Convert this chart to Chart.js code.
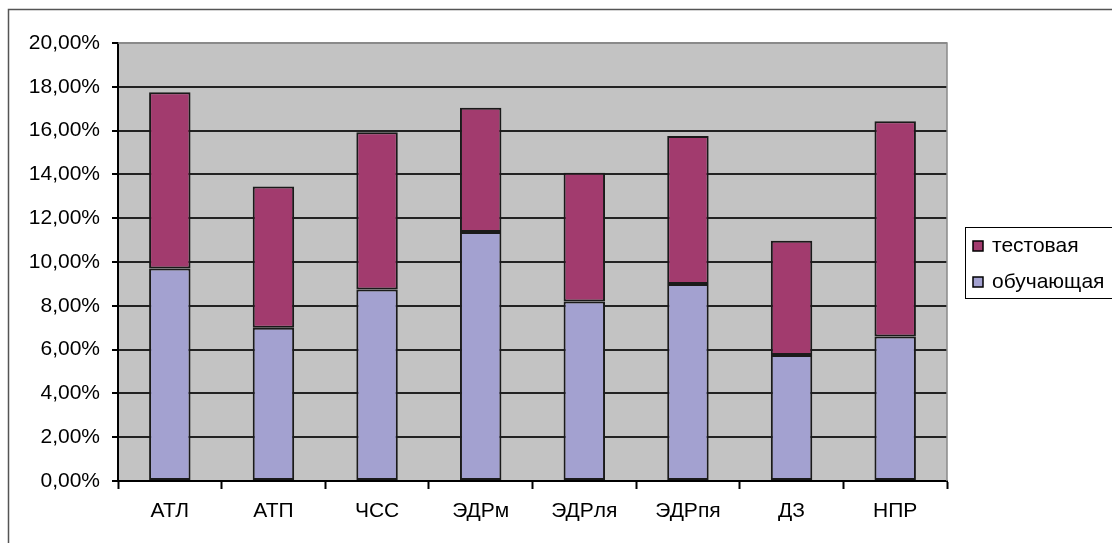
<!DOCTYPE html>
<html>
<head>
<meta charset="utf-8">
<script src="https://cdn.jsdelivr.net/npm/chart.js@4"></script>
<style>
  html, body { margin: 0; padding: 0; background: #fff; }
  #wrap { position: relative; width: 1112px; height: 543px; }
</style>
</head>
<body>
<div id="wrap"><canvas id="barChart" width="1112" height="543"></canvas></div>
<script>
// categories and values (percent)
var categories = ["АТЛ", "АТП", "ЧСС", "ЭДРм", "ЭДРля", "ЭДРпя", "ДЗ", "НПР"];
var trainValues = [9.70, 7.00, 8.75, 11.37, 8.20, 9.00, 5.75, 6.60];
var testValues = [8.05, 6.45, 7.18, 5.67, 5.87, 6.75, 5.22, 9.83];
var seriesNames = ["обучающая", "тестовая"];
var seriesColors = ["#A3A1D0", "#A23B6E"];
var yTicks = [0, 2, 4, 6, 8, 10, 12, 14, 16, 18, 20];

var fontFamily = "'Liberation Sans', Arial, sans-serif";
var fontSize = 21;

// gray plot area, frame and legend like the old Excel chart
var excelLook = {
    id: 'excelLook',
    beforeDraw: function (chart) {
        var ctx = chart.ctx;
        var a = chart.chartArea;
        ctx.save();
        ctx.fillStyle = '#fff';
        ctx.fillRect(0, 0, chart.width, chart.height);
        ctx.strokeStyle = '#555';
        ctx.lineWidth = 1.5;
        ctx.strokeRect(8.5, 9.5, chart.width + 20, chart.height + 20);
        ctx.fillStyle = '#C3C3C3';
        ctx.fillRect(a.left, a.top, a.right - a.left, a.bottom - a.top);
        ctx.restore();
    },
    afterDatasetsDraw: function (chart) {
        var ctx = chart.ctx;
        var a = chart.chartArea;
        ctx.save();
        // plot border top/right
        ctx.strokeStyle = '#8a8a8a';
        ctx.lineWidth = 1.5;
        ctx.beginPath();
        ctx.moveTo(a.left, a.top);
        ctx.lineTo(a.right, a.top);
        ctx.lineTo(a.right, a.bottom);
        ctx.stroke();

        // legend (reversed order, as Excel does for stacks)
        var lx = 965, ly = 227, lw = 160, lh = 71;
        ctx.strokeStyle = '#000';
        ctx.lineWidth = 1;
        ctx.strokeRect(lx + 0.5, ly + 0.5, lw, lh);
        ctx.font = fontSize + 'px ' + fontFamily;
        ctx.textBaseline = 'middle';
        ctx.textAlign = 'left';
        var items = [1, 0];
        items.forEach(function (idx, i) {
            var cy = ly + 19 + i * 36;
            ctx.fillStyle = seriesColors[idx];
            ctx.fillRect(973, cy - 5, 10, 10);
            ctx.strokeStyle = '#000';
            ctx.lineWidth = 1.5;
            ctx.strokeRect(973, cy - 5, 10, 10);
            ctx.fillStyle = '#000';
            ctx.fillText(seriesNames[idx], 992, cy);
        });
        ctx.restore();
    }
};

var ctx = document.getElementById('barChart').getContext('2d');
var barChart = new Chart(ctx, {
    type: 'bar',
    data: {
        labels: categories,
        datasets: [{
            label: seriesNames[0],
            data: trainValues,
            backgroundColor: seriesColors[0],
            borderColor: '#1a1a1a',
            borderWidth: 2,
            borderSkipped: false,
            categoryPercentage: 1,
            barPercentage: 0.4
        }, {
            label: seriesNames[1],
            data: testValues,
            backgroundColor: seriesColors[1],
            borderColor: '#1a1a1a',
            borderWidth: 2,
            borderSkipped: false,
            categoryPercentage: 1,
            barPercentage: 0.4
        }]
    },
    options: {
        responsive: false,
        animation: false,
        layout: { padding: { top: 43, right: 165, bottom: 0, left: 0 } },
        plugins: {
            legend: { display: false },
            tooltip: { enabled: false }
        },
        scales: {
            x: {
                stacked: true,
                afterFit: function (scale) { scale.height = 62; },
                grid: {
                    drawOnChartArea: false,
                    drawTicks: true,
                    tickLength: 8,
                    tickColor: '#000',
                    tickWidth: 2,
                    color: '#000'
                },
                border: { color: '#000', width: 2 },
                ticks: {
                    color: '#000',
                    padding: 10,
                    font: { family: fontFamily, size: fontSize }
                }
            },
            y: {
                stacked: true,
                min: 0,
                max: 20,
                afterFit: function (scale) { scale.width = 118; },
                afterBuildTicks: function (scale) {
                    scale.ticks = yTicks.map(function (v) { return { value: v }; });
                },
                grid: {
                    color: function (c) { return c.tick && c.tick.value === 20 ? '#8a8a8a' : '#222'; },
                    lineWidth: 2,
                    tickLength: 6,
                    tickColor: '#000',
                    tickWidth: 2
                },
                border: { color: '#000', width: 2 },
                ticks: {
                    color: '#000',
                    padding: 12,
                    font: { family: fontFamily, size: fontSize },
                    callback: function (v) { return v.toFixed(2).replace('.', ',') + '%'; }
                }
            }
        }
    },
    plugins: [excelLook]
});
</script>
</body>
</html>
